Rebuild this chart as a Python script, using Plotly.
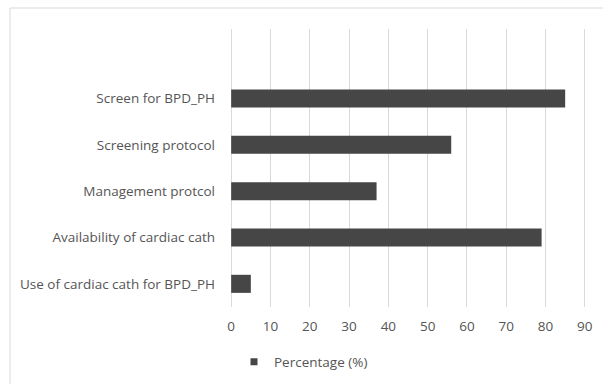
import plotly.graph_objects as go

categories = [
    "Use of cardiac cath for BPD_PH",
    "Availability of cardiac cath",
    "Management protcol",
    "Screening protocol",
    "Screen for BPD_PH",
]
percentages = [5, 79, 37, 56, 85]
x_ticks = [0, 10, 20, 30, 40, 50, 60, 70, 80, 90]
series_name = "Percentage (%)"

W, H = 603, 384
pad = 0.3                      # small range padding so edge gridlines render
px_per_unit = 354 / 90
L = round(231 - pad * px_per_unit)
R = round(W - 585 - pad * px_per_unit)
T, B = 29, 77
pw = W - L - R
ph = H - T - B
bar_color = "#464646"
text_color = "#555555"
fs = 13.5

fig = go.Figure()
fig.add_trace(go.Bar(
    x=percentages, y=categories, orientation="h",
    name=series_name, marker=dict(color=bar_color, line=dict(width=0)),
    showlegend=False,
))
# legend entry with a small square swatch
fig.add_trace(go.Scatter(
    x=[None], y=[None], mode="markers", name=series_name,
    marker=dict(symbol="square", size=7, color=bar_color),
    showlegend=True,
))

font_family = "Open Sans, Lato, sans-serif"
fig.update_layout(
    width=W, height=H,
    margin=dict(l=L, r=R, t=T, b=B, autoexpand=False),
    paper_bgcolor="white", plot_bgcolor="white",
    bargap=0.61,
    font=dict(family=font_family, size=fs, color=text_color),
    showlegend=True,
    legend=dict(orientation="h", x=(234 - L) / pw, xanchor="left",
                y=-(362 - T - ph) / ph, yanchor="middle",
                font=dict(size=fs, color=text_color),
                itemwidth=30, bgcolor="rgba(0,0,0,0)"),
    xaxis=dict(range=[-pad, 90 + pad], tickvals=x_ticks, showgrid=True,
               gridcolor="#d9d9d9", gridwidth=1, zeroline=False,
               showline=False, ticks="", ticklabelstandoff=9,
               tickfont=dict(size=fs, color=text_color)),
    yaxis=dict(type="category", categoryorder="array", categoryarray=categories,
               range=[-0.5, 5.5], showgrid=False, zeroline=False,
               showline=False, ticks="", ticklabelstandoff=14,
               tickfont=dict(size=fs, color=text_color)),
)

fig.add_shape(type="rect", xref="paper", yref="paper",
              x0=(10 - L) / pw, x1=(W + 40 - L) / pw,
              y0=-(H + 40 - T - ph) / ph, y1=1 + (T - 8) / ph,
              line=dict(color="#d9d9d9", width=1), fillcolor="rgba(0,0,0,0)",
              layer="below")

fig.write_html("out.html", config={"displayModeBar": False},
               post_script="document.body.style.margin='0';document.body.style.overflow='hidden';")
